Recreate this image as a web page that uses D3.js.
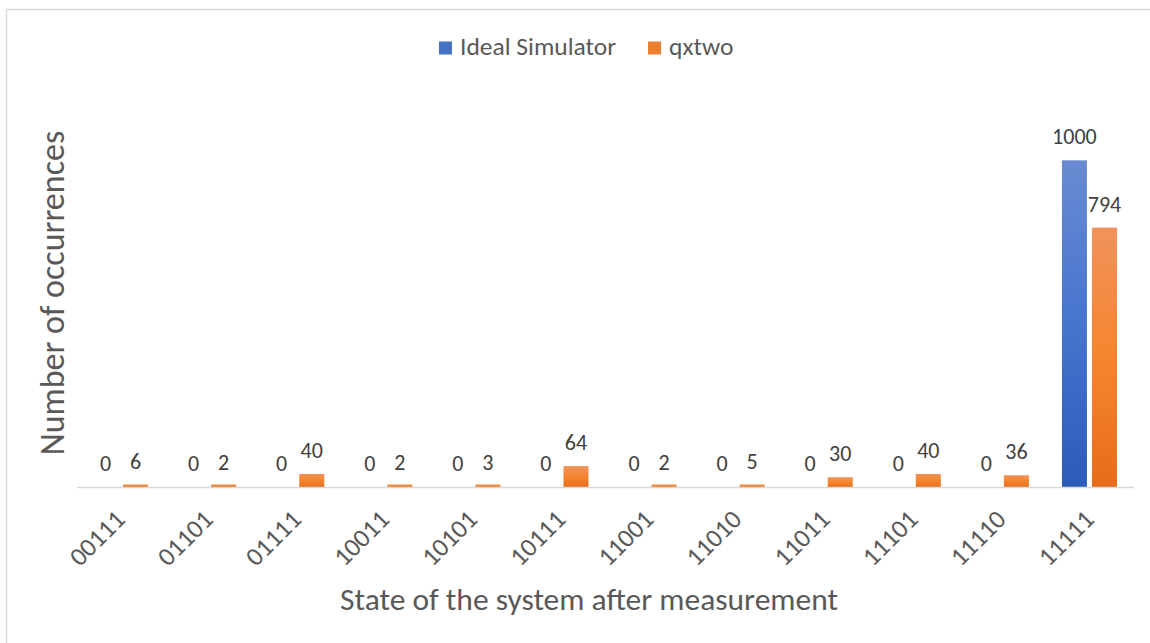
<!DOCTYPE html>
<html>
<head>
<meta charset="utf-8">
<script src="https://cdn.jsdelivr.net/npm/d3@7"></script>
<style>
  html, body { margin: 0; padding: 0; background: #ffffff; }
  svg { display: block; font-family: Calibri, Carlito, Lato, sans-serif; }
</style>
</head>
<body>
<svg id="chart" width="1150" height="643"></svg>
<script>
// ---- data ----
const categories = ["00111","01101","01111","10011","10101","10111","11001","11010","11011","11101","11110","11111"];
const seriesNames = ["Ideal Simulator","qxtwo"];
const idealValues = [0,0,0,0,0,0,0,0,0,0,0,1000];
const qxtwoValues = [6,2,40,2,3,64,2,5,30,40,36,794];
const xTitle = "State of the system after measurement";
const yTitle = "Number of occurrences";

const svg = d3.select("#chart");
const W = 1150, H = 643;

// gradients
const defs = svg.append("defs");
function grad(id, stops) {
  const g = defs.append("linearGradient").attr("id", id)
    .attr("x1", 0).attr("y1", 0).attr("x2", 0).attr("y2", 1);
  stops.forEach(s => g.append("stop").attr("offset", s[0]).attr("stop-color", s[1]));
}
grad("gBlue", [[0, "#6a8bd1"], [0.5, "#4674cf"], [1, "#2c5cb8"]]);
grad("gOrange", [[0, "#f1925c"], [0.5, "#f5852f"], [1, "#e76d19"]]);
const fills = ["url(#gBlue)", "url(#gOrange)"];
const legendFills = ["#4472c4", "#ed7d31"];

// frame
svg.append("line").attr("x1", 6.5).attr("x2", W).attr("y1", 9.5).attr("y2", 9.5)
  .attr("stroke", "#d9d9d9").attr("stroke-width", 1.5);
svg.append("line").attr("x1", 6.5).attr("x2", 6.5).attr("y1", 9.5).attr("y2", H)
  .attr("stroke", "#d9d9d9").attr("stroke-width", 1.5);

// scales
const baseY = 487;
const x0 = d3.scaleBand().domain(categories).range([76.5, 1133.5]);
const x1 = d3.scaleBand().domain(seriesNames).range([16.5, x0.bandwidth() - 16.5]).paddingInner(0.167);
const y = d3.scaleLinear().domain([0, 1200]).range([baseY, baseY - 392]);

const rows = categories.map((c, i) => ({ cat: c, vals: [idealValues[i], qxtwoValues[i]] }));

// bars
const g = svg.append("g");
const groups = g.selectAll("g.cat").data(rows).join("g")
  .attr("transform", d => `translate(${x0(d.cat)},0)`);

groups.selectAll("rect").data(d => d.vals.map((v, j) => ({ v, j })).filter(e => e.v > 0))
  .join("rect")
  .attr("x", e => x1(seriesNames[e.j]))
  .attr("width", x1.bandwidth())
  .attr("y", e => Math.min(y(e.v), baseY - 2.5))
  .attr("height", e => Math.max(baseY - y(e.v), 2.5))
  .attr("fill", e => fills[e.j]);

// value labels
groups.selectAll("text.val").data(d => d.vals.map((v, j) => ({ v, j })))
  .join("text").attr("class", "val")
  .attr("x", e => x1(seriesNames[e.j]) + x1.bandwidth() / 2)
  .attr("y", e => y(e.v) - 16)
  .attr("text-anchor", "middle")
  .attr("font-size", 22)
  .attr("fill", "#404040")
  .text(e => e.v);

// x axis
const xAxis = d3.axisBottom(x0).tickSize(0).tickPadding(0);
const ax = svg.append("g").attr("transform", `translate(0,${baseY})`).call(xAxis);
ax.select(".domain").attr("stroke", "#d9d9d9").attr("stroke-width", 1.5);
ax.selectAll(".tick text")
  .attr("font-size", 26)
  .attr("fill", "#595959")
  .attr("font-family", "Calibri, Carlito, Lato, sans-serif")
  .attr("text-anchor", "end")
  .attr("dy", null)
  .attr("y", null)
  .attr("transform", "translate(6,34) rotate(-45)");

// axis titles
svg.append("text").attr("x", 589).attr("y", 610).attr("text-anchor", "middle")
  .attr("font-size", 31.5).attr("fill", "#595959").text(xTitle);
svg.append("text").attr("transform", "translate(64,293) rotate(-90)").attr("text-anchor", "middle")
  .attr("font-size", 34).attr("fill", "#595959").text(yTitle);

// legend
const legend = svg.append("g");
const legX = [439, 648];
seriesNames.forEach((s, i) => {
  legend.append("rect").attr("x", legX[i]).attr("y", 41.5).attr("width", 13).attr("height", 13)
    .attr("fill", legendFills[i]);
  legend.append("text").attr("x", legX[i] + 21).attr("y", 55).attr("font-size", 25.5)
    .attr("fill", "#595959").text(s);
});
</script>
</body>
</html>
